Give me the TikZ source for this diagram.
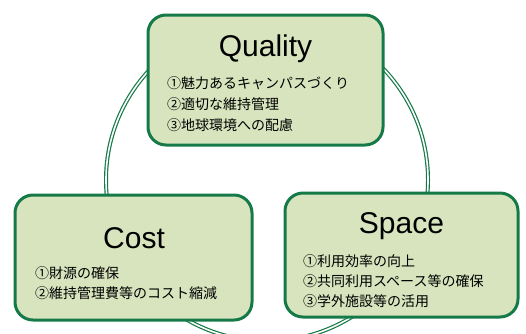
\documentclass[tikz,border=0pt]{standalone}
\usepackage{fontspec}
\setmainfont{Liberation Sans}
\newfontfamily\jp{Noto Sans CJK JP}
\definecolor{boxfill}{RGB}{216,228,190}
\definecolor{boxline}{RGB}{22,122,72}

\begin{document}
\begin{tikzpicture}[x=1pt,y=-1pt,
    box/.style={draw=boxline, line width=3pt, fill=boxfill, rounded corners=18pt},
    title/.style={anchor=base, font=\fontsize{30}{30}\selectfont},
    items/.style={anchor=north west, align=left, inner sep=0pt, font=\jp\fontsize{14}{#1}\selectfont}]
    \useasboundingbox (0,0) rectangle (526,333);

    % ring behind the three boxes
    \draw[boxline, line width=1.2pt, double=white, double distance=1.6pt](267,180)circle(161);

    \node[box, minimum width=235pt, minimum height=130pt](quality)at(265.5,80){};
    \node[box, minimum width=237pt, minimum height=125pt](cost)at(133.5,257.5){};
    \node[box, minimum width=233pt, minimum height=124pt](space)at(401.5,255){};

    \node[title](qualitytitle)at(265.5,56){Quality};
    \node[title](costtitle)at(134,248){Cost};
    \node[title](spacetitle)at(401.5,233){Space};

    \node[items=21pt](qualityitems)at(167,76){①魅力あるキャンパスづくり\\②適切な維持管理\\③地球環境への配慮};
    \node[items=20pt](costitems)at(35,266){①財源の確保\\②維持管理費等のコスト縮減};
    \node[items=20pt](spaceitems)at(303,254){①利用効率の向上\\②共同利用スペース等の確保\\③学外施設等の活用};
\end{tikzpicture}
\end{document}
